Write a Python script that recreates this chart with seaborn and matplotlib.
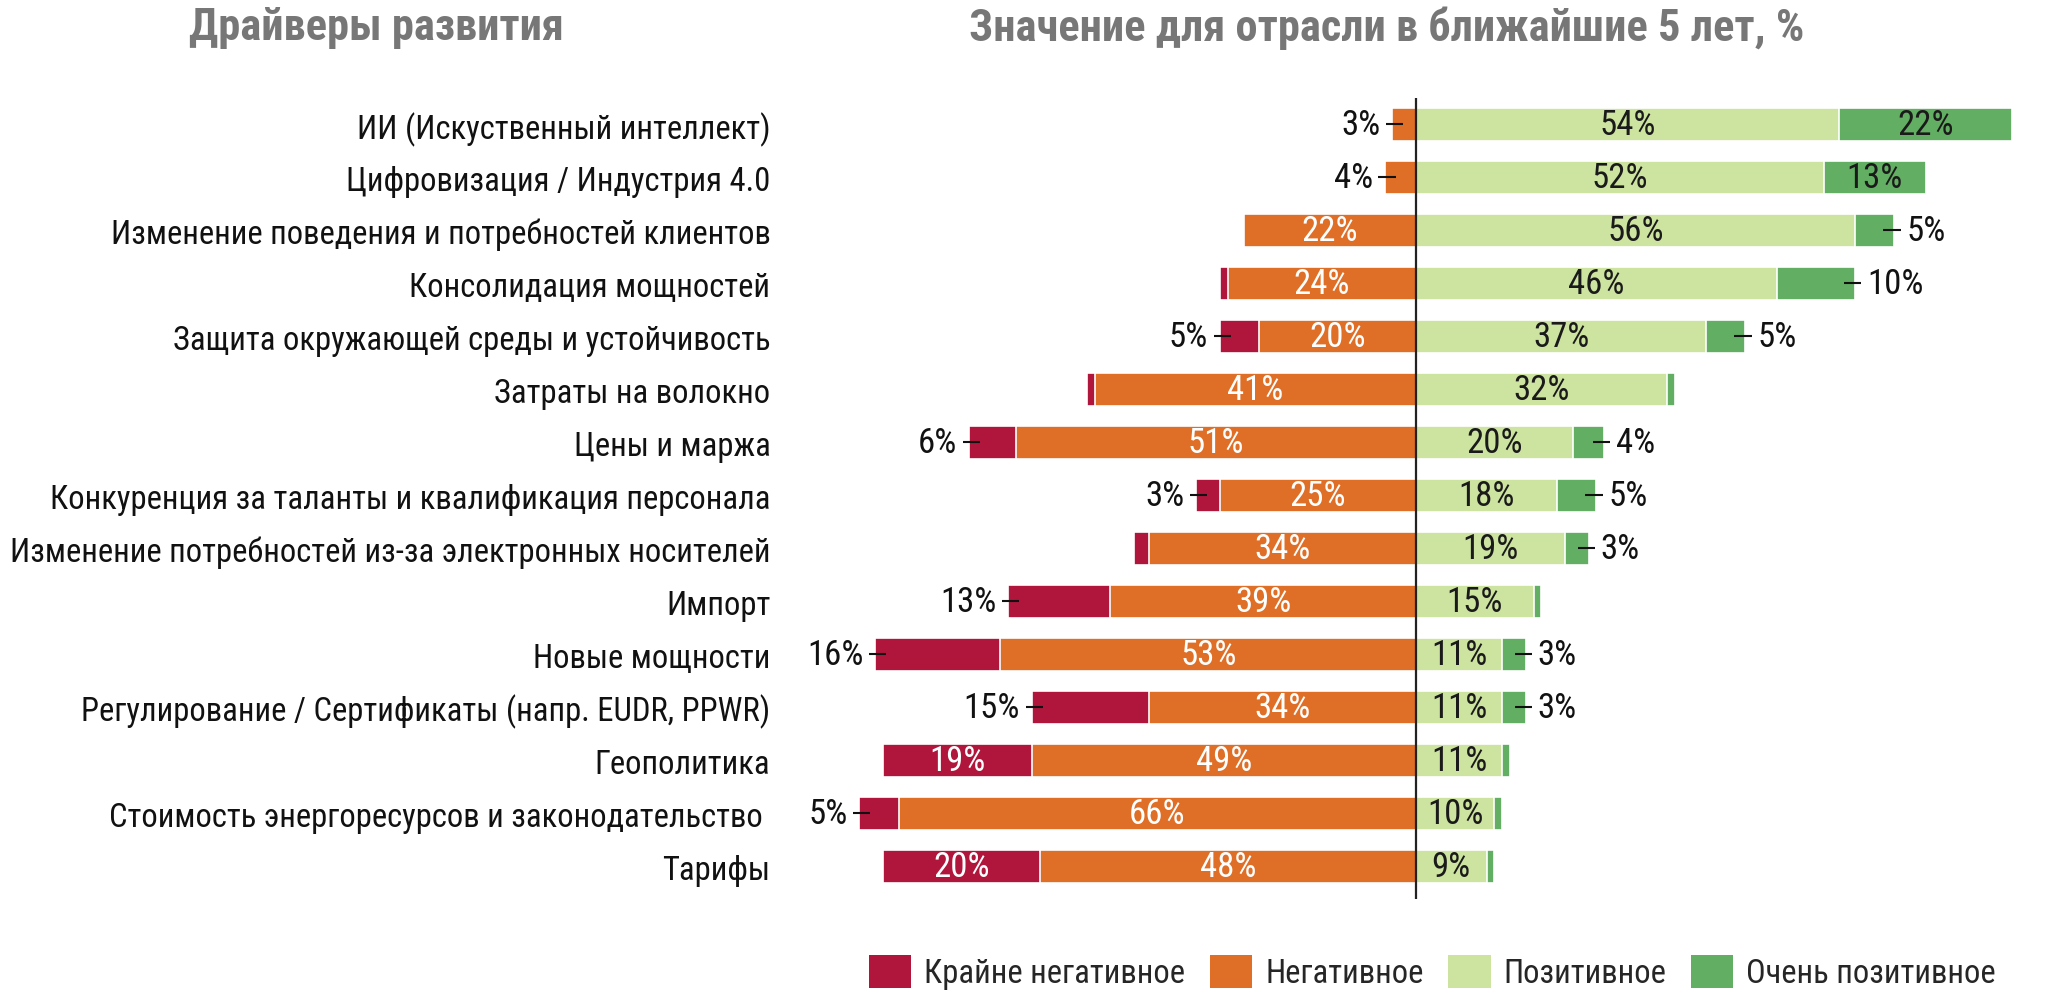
"""Drivers of development: diverging stacked bar chart"""

import matplotlib
matplotlib.use("Agg")
import matplotlib.pyplot as plt
from matplotlib import font_manager
from matplotlib.patches import Patch
import pandas as pd
import seaborn as sns

# data
drivers = [
    "ИИ (Искуственный интеллект)",
    "Цифровизация / Индустрия 4.0",
    "Изменение поведения и потребностей клиентов",
    "Консолидация мощностей",
    "Защита окружающей среды и устойчивость",
    "Затраты на волокно",
    "Цены и маржа",
    "Конкуренция за таланты и квалификация персонала",
    "Изменение потребностей из-за электронных носителей",
    "Импорт",
    "Новые мощности",
    "Регулирование / Сертификаты (напр. EUDR, PPWR)",
    "Геополитика",
    "Стоимость энергоресурсов и законодательство ",
    "Тарифы",
]
very_negative = [0, 0, 0, 1, 5, 1, 6, 3, 2, 13, 16, 15, 19, 5, 20]
negative = [3, 4, 22, 24, 20, 41, 51, 25, 34, 39, 53, 34, 49, 66, 48]
positive = [54, 52, 56, 46, 37, 32, 20, 18, 19, 15, 11, 11, 11, 10, 9]
very_positive = [22, 13, 5, 10, 5, 1, 4, 5, 3, 1, 3, 3, 1, 1, 1]

legend_labels = ["Крайне негативное", "Негативное", "Позитивное", "Очень позитивное"]
left_title = "Драйверы развития"
right_title = "Значение для отрасли в ближайшие 5 лет, %"

COLORS = {
    "vneg": "#B0163C",
    "neg": "#DF6F26",
    "pos": "#CDE3A0",
    "vpos": "#62AE62",
}

# pick a narrow font if one is around
names = {f.name for f in font_manager.fontManager.ttflist}
FONT = "DejaVu Sans"
for cand in ["Liberation Sans Narrow", "Arial Narrow", "Roboto Condensed", "Liberation Sans"]:
    if cand in names:
        FONT = cand
        break

sns.set_style("white")
plt.rcParams["font.family"] = [FONT, "DejaVu Sans"]

df = pd.DataFrame({
    "driver": drivers,
    "vneg": very_negative,
    "neg": negative,
    "pos": positive,
    "vpos": very_positive,
})
df["neg_total"] = -(df["vneg"] + df["neg"])
df["neg_only"] = -df["neg"]
df["pos_total"] = df["pos"] + df["vpos"]

fig = plt.figure(figsize=(20.48, 10.04), dpi=100)
ax = fig.add_axes([0.3857, 0.1036, 0.6055, 0.7978])

bar_kw = dict(y="driver", orient="h", width=0.62, edgecolor="white",
              linewidth=1.2, ax=ax, order=drivers, saturation=1)
sns.barplot(data=df, x="neg_total", color=COLORS["vneg"], **bar_kw)
sns.barplot(data=df, x="neg_only", color=COLORS["neg"], **bar_kw)
sns.barplot(data=df, x="pos_total", color=COLORS["vpos"], **bar_kw)
sns.barplot(data=df, x="pos", color=COLORS["pos"], **bar_kw)

ax.set_xlim(-79.85, 78.3)
ax.set_ylim(14.62, -0.5)
ax.axvline(0, color="#222222", linewidth=1.6)

ax.set_xlabel("")
ax.set_ylabel("")
ax.set_xticks([])
ax.tick_params(axis="y", length=0, pad=14, labelsize=23.5, labelcolor="#111111")
sns.despine(ax=ax, left=True, bottom=True)

LBL = 25


def inside(x, y, v, color):
    ax.text(x, y, f"{v}%", ha="center", va="center", fontsize=LBL, color=color)


def outside(edge, y, v, side):
    # short leader line that dips into the segment, text past it
    s = 1 if side == "right" else -1
    ax.plot([edge - s * 1.4, edge + s * 0.8], [y, y], color="#111111",
            linewidth=1.5, solid_capstyle="butt")
    ax.text(edge + s * 1.5, y, f"{v}%", ha="left" if s > 0 else "right",
            va="center", fontsize=LBL, color="#111111")


for i, row in df.iterrows():
    vn, n, p, vp = row["vneg"], row["neg"], row["pos"], row["vpos"]
    # negative
    if vn == 0 and n < 5:
        outside(-n, i, n, "left")
    else:
        inside(-n / 2, i, n, "white")
    if vn >= 19:
        inside(-(n + vn / 2), i, vn, "white")
    elif vn >= 3:
        outside(-(n + vn), i, vn, "left")
    # positive
    inside(p / 2, i, p, "#1a1a1a")
    if vp >= 13:
        inside(p + vp / 2, i, vp, "#1a1a1a")
    elif vp >= 3:
        outside(p + vp, i, vp, "right")

fig.text(0.1836, 0.972, left_title, ha="center", va="center", fontsize=32,
         fontweight="bold", color="#777777")
fig.text(0.677, 0.972, right_title, ha="center", va="center", fontsize=32,
         fontweight="bold", color="#777777")

handles = [Patch(facecolor=COLORS[k], edgecolor="none") for k in ["vneg", "neg", "pos", "vpos"]]
fig.legend(handles, legend_labels, ncol=4, loc="center right",
           bbox_to_anchor=(0.981, 0.031), frameon=False, fontsize=23.5,
           handlelength=1.3, handleheight=1.2, handletextpad=0.4,
           columnspacing=0.75, borderaxespad=0)

fig.savefig("out.png", dpi=100)
plt.close(fig)
